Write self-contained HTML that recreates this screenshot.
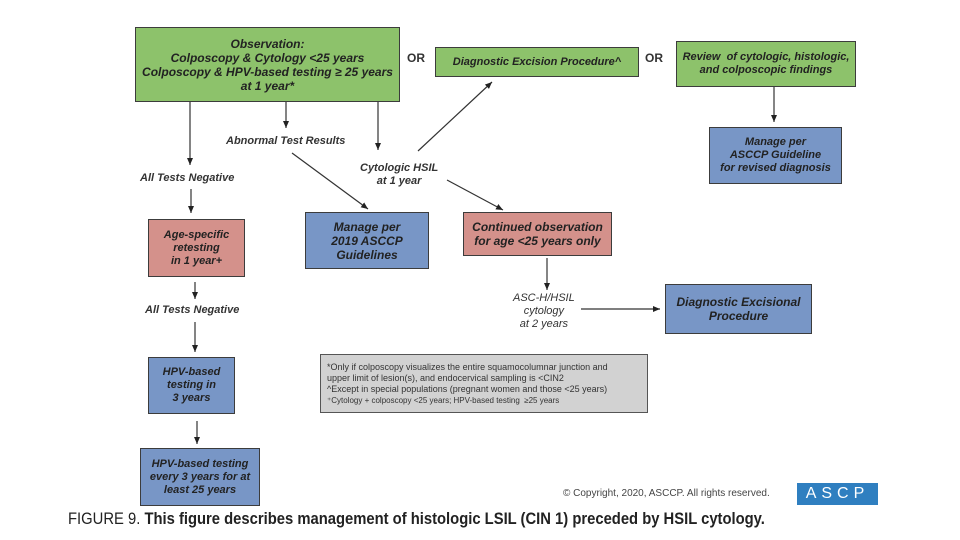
<!DOCTYPE html>
<html><head><meta charset="utf-8"><style>
body{margin:0;width:960px;height:540px;background:#fff;position:relative;overflow:hidden;font-family:"Liberation Sans",sans-serif}
.b{position:absolute;box-sizing:border-box;border:1.5px solid #3c3c3c;display:flex;align-items:center;justify-content:center;text-align:center;font-style:italic;font-weight:bold;font-size:11px;line-height:13px;color:#222}
.g{background:#8dc26b}.bl{background:#7896c6}.p{background:#d4918b}
.t{position:absolute;font-style:italic;font-weight:bold;font-size:11px;line-height:13px;color:#333;text-align:center;white-space:nowrap}
</style></head><body>
<svg width="960" height="540" style="position:absolute;left:0;top:0">
<defs><marker id="a" markerWidth="8" markerHeight="8" refX="7" refY="4" orient="auto" markerUnits="userSpaceOnUse"><path d="M0,1 L7,4 L0,7z" fill="#222"/></marker></defs>
<g stroke="#333" stroke-width="1.2" marker-end="url(#a)">
<line x1="190" y1="102" x2="190" y2="165"/>
<line x1="191" y1="189" x2="191" y2="213"/>
<line x1="286" y1="102" x2="286" y2="128"/>
<line x1="378" y1="102" x2="378" y2="150"/>
<line x1="292" y1="153" x2="368" y2="209"/>
<line x1="418" y1="151" x2="492" y2="82"/>
<line x1="447" y1="180" x2="503" y2="210"/>
<line x1="774" y1="87" x2="774" y2="122"/>
<line x1="547" y1="258" x2="547" y2="290"/>
<line x1="581" y1="309" x2="660" y2="309"/>
<line x1="195" y1="282" x2="195" y2="299"/>
<line x1="195" y1="322" x2="195" y2="352"/>
<line x1="197" y1="421" x2="197" y2="444"/>
</g></svg>
<div class="b g" style="left:135px;top:27px;width:265px;height:75px;font-size:12px;line-height:14px">Observation:<br>Colposcopy &amp; Cytology &lt;25 years<br>Colposcopy &amp; HPV-based testing ≥ 25 years<br>at 1 year*</div>
<div class="b g" style="left:435px;top:47px;width:204px;height:30px">Diagnostic Excision Procedure^</div>
<div class="b g" style="left:676px;top:41px;width:180px;height:46px">Review&nbsp; of cytologic, histologic,<br>and colposcopic findings</div>
<div class="b bl" style="left:709px;top:127px;width:133px;height:57px">Manage per<br>ASCCP Guideline<br>for revised diagnosis</div>
<div class="b p" style="left:148px;top:219px;width:97px;height:58px">Age-specific<br>retesting<br>in 1 year+</div>
<div class="b bl" style="left:305px;top:212px;width:124px;height:57px;font-size:12px;line-height:14px">Manage per<br>2019 ASCCP<br>Guidelines</div>
<div class="b p" style="left:463px;top:212px;width:149px;height:44px;font-size:12px;line-height:14px">Continued observation<br>for age &lt;25 years only</div>
<div class="b bl" style="left:665px;top:284px;width:147px;height:50px;font-size:12px;line-height:14px">Diagnostic Excisional<br>Procedure</div>
<div class="b bl" style="left:148px;top:357px;width:87px;height:57px">HPV-based<br>testing in<br>3 years</div>
<div class="b bl" style="left:140px;top:448px;width:120px;height:58px">HPV-based testing<br>every 3 years for at<br>least 25 years</div>
<div class="b" style="left:320px;top:354px;width:328px;height:59px;background:#d2d2d2;border-color:#555;font-style:normal;font-weight:normal;font-size:9px;line-height:11px;text-align:left;justify-content:flex-start;padding-left:6px;color:#333"><div>*Only if colposcopy visualizes the entire squamocolumnar junction and<br>upper limit of lesion(s), and endocervical sampling is &lt;CIN2<br>^Except in special populations (pregnant women and those &lt;25 years)<br><span style="font-size:8px">⁺Cytology + colposcopy &lt;25 years; HPV-based testing&nbsp; ≥25 years</span></div></div>
<div class="t" style="left:407px;top:52px;font-style:normal;font-size:12px">OR</div>
<div class="t" style="left:645px;top:52px;font-style:normal;font-size:12px">OR</div>
<div class="t" style="left:140px;top:172px">All Tests Negative</div>
<div class="t" style="left:226px;top:135px">Abnormal Test Results</div>
<div class="t" style="left:360px;top:162px">Cytologic HSIL<br>at 1 year</div>
<div class="t" style="left:145px;top:304px">All Tests Negative</div>
<div class="t" style="left:513px;top:292px;font-weight:normal">ASC-H/HSIL<br>cytology<br>at 2 years</div>
<div class="t" style="left:563px;top:487px;font-style:normal;font-weight:normal;font-size:10px;color:#444">© Copyright, 2020, ASCCP. All rights reserved.</div>
<div style="position:absolute;left:797px;top:483px;width:81px;height:22px;background:#2f7fc0;color:#fff;font-size:16px;line-height:22px;text-align:center;letter-spacing:5px">ASCP</div>
<div style="position:absolute;left:68px;top:509px;font-size:17px;color:#222;white-space:nowrap;transform:scaleX(0.87);transform-origin:left"><span>FIGURE 9.</span> <b>This figure describes management of histologic LSIL (CIN 1) preceded by HSIL cytology.</b></div>
</body></html>
